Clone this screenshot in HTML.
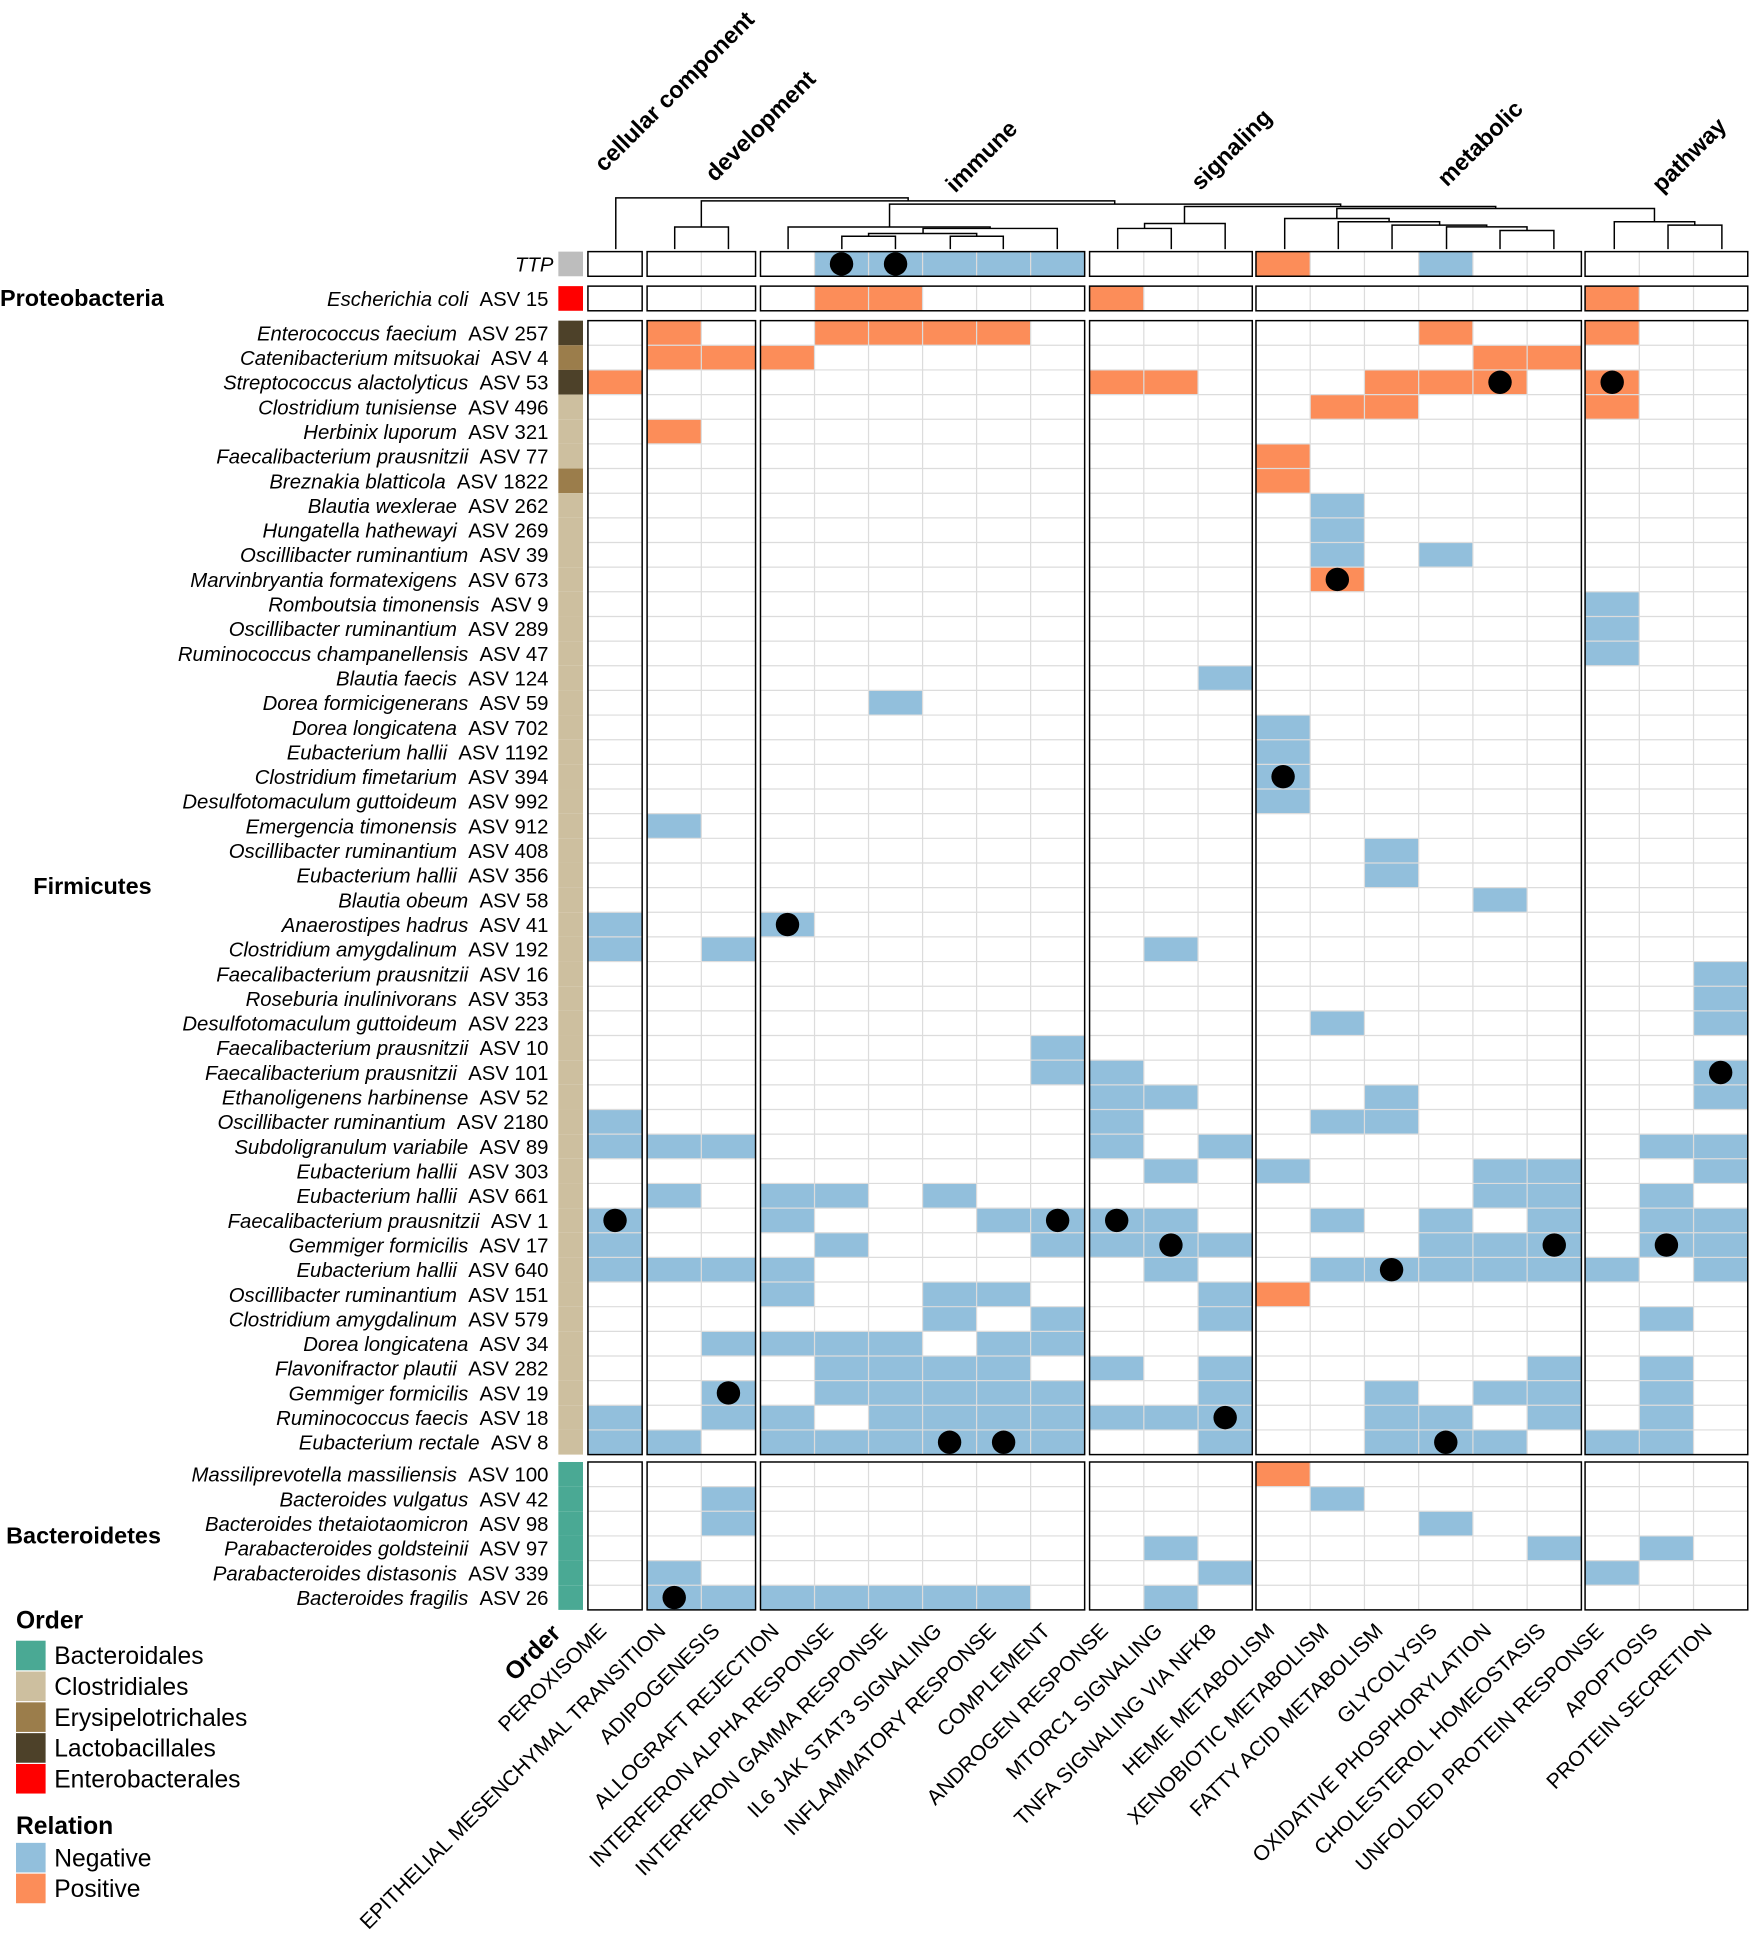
<!DOCTYPE html>
<html><head><meta charset="utf-8"><style>
html,body{margin:0;padding:0;background:#fff;}
svg{display:block;font-family:"Liberation Sans",Arial,sans-serif;}
.rl{font-size:16.5px;text-anchor:end;}
.cl{font-size:17.2px;text-anchor:end;}
.gl{font-size:19px;font-weight:bold;}
.ph{font-size:19px;font-weight:bold;}
.lg{font-size:20px;}
</style></head><body>
<svg id="s" width="1749" height="1933" viewBox="0 0 1419 1568" xmlns="http://www.w3.org/2000/svg">
<g id="cells"></g>
<g id="dend" stroke="#000" stroke-width="1.2" fill="none"></g>
<g class="gl">
<text transform="translate(490,140) rotate(-45)">cellular component</text>
<text transform="translate(580,148) rotate(-45)">development</text>
<text transform="translate(775,157) rotate(-45)">immune</text>
<text transform="translate(974,155) rotate(-45)">signaling</text>
<text transform="translate(1174,152) rotate(-45)">metabolic</text>
<text transform="translate(1348,157) rotate(-45)">pathway</text>
</g>
<text class="ph" x="0" y="248">Proteobacteria</text>
<text class="ph" x="27" y="725">Firmicutes</text>
<text class="ph" x="5" y="1252">Bacteroidetes</text>
<g class="rl">
<text x="449" y="220"><tspan font-style="italic">TTP</tspan></text>
<text x="445" y="248"><tspan font-style="italic">Escherichia coli</tspan>&#160;&#160;ASV 15</text>
<text x="445" y="276"><tspan font-style="italic">Enterococcus faecium</tspan>&#160;&#160;ASV 257</text>
<text x="445" y="296"><tspan font-style="italic">Catenibacterium mitsuokai</tspan>&#160;&#160;ASV 4</text>
<text x="445" y="316"><tspan font-style="italic">Streptococcus alactolyticus</tspan>&#160;&#160;ASV 53</text>
<text x="445" y="336"><tspan font-style="italic">Clostridium tunisiense</tspan>&#160;&#160;ASV 496</text>
<text x="445" y="356"><tspan font-style="italic">Herbinix luporum</tspan>&#160;&#160;ASV 321</text>
<text x="445" y="376"><tspan font-style="italic">Faecalibacterium prausnitzii</tspan>&#160;&#160;ASV 77</text>
<text x="445" y="396"><tspan font-style="italic">Breznakia blatticola</tspan>&#160;&#160;ASV 1822</text>
<text x="445" y="416"><tspan font-style="italic">Blautia wexlerae</tspan>&#160;&#160;ASV 262</text>
<text x="445" y="436"><tspan font-style="italic">Hungatella hathewayi</tspan>&#160;&#160;ASV 269</text>
<text x="445" y="456"><tspan font-style="italic">Oscillibacter ruminantium</tspan>&#160;&#160;ASV 39</text>
<text x="445" y="476"><tspan font-style="italic">Marvinbryantia formatexigens</tspan>&#160;&#160;ASV 673</text>
<text x="445" y="496"><tspan font-style="italic">Romboutsia timonensis</tspan>&#160;&#160;ASV 9</text>
<text x="445" y="516"><tspan font-style="italic">Oscillibacter ruminantium</tspan>&#160;&#160;ASV 289</text>
<text x="445" y="536"><tspan font-style="italic">Ruminococcus champanellensis</tspan>&#160;&#160;ASV 47</text>
<text x="445" y="556"><tspan font-style="italic">Blautia faecis</tspan>&#160;&#160;ASV 124</text>
<text x="445" y="576"><tspan font-style="italic">Dorea formicigenerans</tspan>&#160;&#160;ASV 59</text>
<text x="445" y="596"><tspan font-style="italic">Dorea longicatena</tspan>&#160;&#160;ASV 702</text>
<text x="445" y="616"><tspan font-style="italic">Eubacterium hallii</tspan>&#160;&#160;ASV 1192</text>
<text x="445" y="636"><tspan font-style="italic">Clostridium fimetarium</tspan>&#160;&#160;ASV 394</text>
<text x="445" y="656"><tspan font-style="italic">Desulfotomaculum guttoideum</tspan>&#160;&#160;ASV 992</text>
<text x="445" y="676"><tspan font-style="italic">Emergencia timonensis</tspan>&#160;&#160;ASV 912</text>
<text x="445" y="696"><tspan font-style="italic">Oscillibacter ruminantium</tspan>&#160;&#160;ASV 408</text>
<text x="445" y="716"><tspan font-style="italic">Eubacterium hallii</tspan>&#160;&#160;ASV 356</text>
<text x="445" y="736"><tspan font-style="italic">Blautia obeum</tspan>&#160;&#160;ASV 58</text>
<text x="445" y="756"><tspan font-style="italic">Anaerostipes hadrus</tspan>&#160;&#160;ASV 41</text>
<text x="445" y="776"><tspan font-style="italic">Clostridium amygdalinum</tspan>&#160;&#160;ASV 192</text>
<text x="445" y="796"><tspan font-style="italic">Faecalibacterium prausnitzii</tspan>&#160;&#160;ASV 16</text>
<text x="445" y="816"><tspan font-style="italic">Roseburia inulinivorans</tspan>&#160;&#160;ASV 353</text>
<text x="445" y="836"><tspan font-style="italic">Desulfotomaculum guttoideum</tspan>&#160;&#160;ASV 223</text>
<text x="445" y="856"><tspan font-style="italic">Faecalibacterium prausnitzii</tspan>&#160;&#160;ASV 10</text>
<text x="445" y="876"><tspan font-style="italic">Faecalibacterium prausnitzii</tspan>&#160;&#160;ASV 101</text>
<text x="445" y="896"><tspan font-style="italic">Ethanoligenens harbinense</tspan>&#160;&#160;ASV 52</text>
<text x="445" y="916"><tspan font-style="italic">Oscillibacter ruminantium</tspan>&#160;&#160;ASV 2180</text>
<text x="445" y="936"><tspan font-style="italic">Subdoligranulum variabile</tspan>&#160;&#160;ASV 89</text>
<text x="445" y="956"><tspan font-style="italic">Eubacterium hallii</tspan>&#160;&#160;ASV 303</text>
<text x="445" y="976"><tspan font-style="italic">Eubacterium hallii</tspan>&#160;&#160;ASV 661</text>
<text x="445" y="996"><tspan font-style="italic">Faecalibacterium prausnitzii</tspan>&#160;&#160;ASV 1</text>
<text x="445" y="1016"><tspan font-style="italic">Gemmiger formicilis</tspan>&#160;&#160;ASV 17</text>
<text x="445" y="1036"><tspan font-style="italic">Eubacterium hallii</tspan>&#160;&#160;ASV 640</text>
<text x="445" y="1056"><tspan font-style="italic">Oscillibacter ruminantium</tspan>&#160;&#160;ASV 151</text>
<text x="445" y="1076"><tspan font-style="italic">Clostridium amygdalinum</tspan>&#160;&#160;ASV 579</text>
<text x="445" y="1096"><tspan font-style="italic">Dorea longicatena</tspan>&#160;&#160;ASV 34</text>
<text x="445" y="1116"><tspan font-style="italic">Flavonifractor plautii</tspan>&#160;&#160;ASV 282</text>
<text x="445" y="1136"><tspan font-style="italic">Gemmiger formicilis</tspan>&#160;&#160;ASV 19</text>
<text x="445" y="1156"><tspan font-style="italic">Ruminococcus faecis</tspan>&#160;&#160;ASV 18</text>
<text x="445" y="1176"><tspan font-style="italic">Eubacterium rectale</tspan>&#160;&#160;ASV 8</text>
<text x="445" y="1202"><tspan font-style="italic">Massiliprevotella massiliensis</tspan>&#160;&#160;ASV 100</text>
<text x="445" y="1222"><tspan font-style="italic">Bacteroides vulgatus</tspan>&#160;&#160;ASV 42</text>
<text x="445" y="1242"><tspan font-style="italic">Bacteroides thetaiotaomicron</tspan>&#160;&#160;ASV 98</text>
<text x="445" y="1262"><tspan font-style="italic">Parabacteroides goldsteinii</tspan>&#160;&#160;ASV 97</text>
<text x="445" y="1282"><tspan font-style="italic">Parabacteroides distasonis</tspan>&#160;&#160;ASV 339</text>
<text x="445" y="1302"><tspan font-style="italic">Bacteroides fragilis</tspan>&#160;&#160;ASV 26</text>
</g>
<g class="cl">
<text transform="translate(493,1324) rotate(-45)">PEROXISOME</text>
<text transform="translate(541,1324) rotate(-45)">EPITHELIAL MESENCHYMAL TRANSITION</text>
<text transform="translate(585,1324) rotate(-45)">ADIPOGENESIS</text>
<text transform="translate(633,1324) rotate(-45)">ALLOGRAFT REJECTION</text>
<text transform="translate(677,1324) rotate(-45)">INTERFERON ALPHA RESPONSE</text>
<text transform="translate(721,1324) rotate(-45)">INTERFERON GAMMA RESPONSE</text>
<text transform="translate(765,1324) rotate(-45)">IL6 JAK STAT3 SIGNALING</text>
<text transform="translate(809,1324) rotate(-45)">INFLAMMATORY RESPONSE</text>
<text transform="translate(853,1324) rotate(-45)">COMPLEMENT</text>
<text transform="translate(900,1324) rotate(-45)">ANDROGEN RESPONSE</text>
<text transform="translate(944,1324) rotate(-45)">MTORC1 SIGNALING</text>
<text transform="translate(988,1324) rotate(-45)">TNFA SIGNALING VIA NFKB</text>
<text transform="translate(1035,1324) rotate(-45)">HEME METABOLISM</text>
<text transform="translate(1079,1324) rotate(-45)">XENOBIOTIC METABOLISM</text>
<text transform="translate(1123,1324) rotate(-45)">FATTY ACID METABOLISM</text>
<text transform="translate(1167,1324) rotate(-45)">GLYCOLYSIS</text>
<text transform="translate(1211,1324) rotate(-45)">OXIDATIVE PHOSPHORYLATION</text>
<text transform="translate(1255,1324) rotate(-45)">CHOLESTEROL HOMEOSTASIS</text>
<text transform="translate(1302,1324) rotate(-45)">UNFOLDED PROTEIN RESPONSE</text>
<text transform="translate(1346,1324) rotate(-45)">APOPTOSIS</text>
<text transform="translate(1390,1324) rotate(-45)">PROTEIN SECRETION</text>
<text transform="translate(456,1326) rotate(-45)" style="font-size:20px;font-weight:bold">Order</text>
</g>
<text x="13" y="1321" class="lg" font-weight="bold">Order</text>
<rect x="13" y="1331" width="24" height="24" fill="#4aa994"/>
<rect x="13" y="1356" width="24" height="24" fill="#cdbf9f"/>
<rect x="13" y="1381" width="24" height="24" fill="#9b7d4b"/>
<rect x="13" y="1406" width="24" height="24" fill="#4d4129"/>
<rect x="13" y="1431" width="24" height="24" fill="#ff0000"/>
<text x="44" y="1350" class="lg">Bacteroidales</text>
<text x="44" y="1375" class="lg">Clostridiales</text>
<text x="44" y="1400" class="lg">Erysipelotrichales</text>
<text x="44" y="1425" class="lg">Lactobacillales</text>
<text x="44" y="1450" class="lg">Enterobacterales</text>
<text x="13" y="1488" class="lg" font-weight="bold">Relation</text>
<rect x="13" y="1495" width="24" height="24" fill="#92bfdc"/>
<rect x="13" y="1520" width="24" height="24" fill="#fc8d59"/>
<text x="44" y="1514" class="lg">Negative</text>
<text x="44" y="1539" class="lg">Positive</text>
</svg>
<script>
(function(){
var NS="http://www.w3.org/2000/svg";
var g=document.getElementById("cells"),d=document.getElementById("dend");
function el(t,a,p){var e=document.createElementNS(NS,t);for(var k in a)e.setAttribute(k,a[k]);(p||g).appendChild(e);return e;}
var panels=[[477,521,1],[525,613,2],[617,880,6],[884,1016,3],[1019,1283,6],[1286,1418,3]];
var cols=[];panels.forEach(function(p){var w=(p[1]-p[0])/p[2];for(var i=0;i<p[2];i++)cols.push([p[0]+i*w,w]);});
var BL="#92bfdc",OR="#fc8d59";
var C="#cdbf9f",L="#4d4129",E="#9b7d4b";
var blocks=[
[204,[[[4,5,6,7,8,15],[12],[4,5],"#bdbdbd"]]],
[232,[[[],[4,5,9,18],[],"#ff0000"]]],
[260,[
[[],[1,4,5,6,7,15,18],[],L],
[[],[1,2,3,16,17],[],E],
[[],[0,9,10,14,15,16,18],[16,18],L],
[[],[13,14,18],[],C],
[[],[1],[],C],
[[],[12],[],C],
[[],[12],[],E],
[[13],[],[],C],
[[13],[],[],C],
[[13,15],[],[],C],
[[],[13],[13],C],
[[18],[],[],C],
[[18],[],[],C],
[[18],[],[],C],
[[11],[],[],C],
[[5],[],[],C],
[[12],[],[],C],
[[12],[],[],C],
[[12],[],[12],C],
[[12],[],[],C],
[[1],[],[],C],
[[14],[],[],C],
[[14],[],[],C],
[[16],[],[],C],
[[0,3],[],[3],C],
[[0,2,10],[],[],C],
[[20],[],[],C],
[[20],[],[],C],
[[13,20],[],[],C],
[[8],[],[],C],
[[8,9,20],[],[20],C],
[[9,10,14,20],[],[],C],
[[0,9,13,14],[],[],C],
[[0,1,2,9,11,19,20],[],[],C],
[[10,12,16,17,20],[],[],C],
[[1,3,4,6,16,17,19],[],[],C],
[[0,3,7,8,9,10,13,15,17,19,20],[],[0,8,9],C],
[[0,4,8,9,10,11,15,16,17,19,20],[],[10,17,19],C],
[[0,1,2,3,10,13,14,15,16,17,18,20],[],[14],C],
[[3,6,7,11],[12],[],C],
[[6,8,11,19],[],[],C],
[[2,3,4,5,7,8],[],[],C],
[[4,5,6,7,9,11,17,19],[],[],C],
[[2,4,5,6,7,8,11,14,16,17,19],[],[2],C],
[[0,2,3,5,6,7,8,9,10,11,14,15,17,19],[],[11],C],
[[0,1,3,4,5,6,7,8,11,14,15,16,18,19],[],[6,7,15],C]
]],
[1186,[
[[],[12],[],"#4aa994"],
[[2,13],[],[],"#4aa994"],
[[2,15],[],[],"#4aa994"],
[[10,17,19],[],[],"#4aa994"],
[[1,11,18],[],[],"#4aa994"],
[[1,2,3,4,5,6,7,10],[],[1],"#4aa994"]
]]];
var RH=20;
blocks.forEach(function(b){
 var top=b[0],rows=b[1],n=rows.length,bot=top+n*RH;
 panels.forEach(function(p){el("rect",{x:p[0],y:top,width:p[1]-p[0],height:n*RH,fill:"#fff"});});
 rows.forEach(function(r,i){
  var y=top+i*RH;
  el("rect",{x:453,y:y,width:20,height:RH,fill:r[3]});
  r[0].forEach(function(c){el("rect",{x:cols[c][0],y:y,width:cols[c][1],height:RH,fill:BL});});
  r[1].forEach(function(c){el("rect",{x:cols[c][0],y:y,width:cols[c][1],height:RH,fill:OR});});
 });
 panels.forEach(function(p){
  var w=(p[1]-p[0])/p[2];
  for(var i=1;i<p[2];i++)el("line",{x1:p[0]+i*w,x2:p[0]+i*w,y1:top,y2:bot,stroke:"#dcdcdc","stroke-width":1});
  for(var j=1;j<n;j++)el("line",{x1:p[0],x2:p[1],y1:top+j*RH,y2:top+j*RH,stroke:"#dcdcdc","stroke-width":1});
 });
 rows.forEach(function(r,i){
  r[2].forEach(function(c){el("circle",{cx:cols[c][0]+cols[c][1]/2,cy:top+i*RH+RH/2,r:9.5,fill:"#000"});});
 });
 panels.forEach(function(p){el("rect",{x:p[0],y:top,width:p[1]-p[0],height:n*RH,fill:"none",stroke:"#000","stroke-width":1.2});});
});
var segs=[
[499.6,736.8,160.4,202,162.8],
[569,904.4,162.8,184,165.5],
[547.4,591,184,202,202],
[721.7,1087.7,165.5,184,167.4],
[639.4,803.3,184,202,185.2],
[748.9,857.8,185.2,189.3,202],
[704.7,792.4,189.3,191.5,191.5],
[683,726.5,191.5,202,202],
[771,814,191.5,202,202],
[961,1213.5,167.4,181.2,169],
[928.6,994,181.2,185.2,202],
[906.8,950.3,185.2,202,202],
[1084.6,1342.3,169,177.1,179.8],
[1042.3,1127,177.1,202,179.8],
[1085.8,1168,179.8,202,182.5],
[1129.4,1206.2,182.5,202,183.9],
[1173.6,1238.9,183.9,202,186.9],
[1217,1260.7,186.9,202,202],
[1309.7,1375,179.8,202,182.5],
[1353.3,1397,182.5,202,202]
];
segs.forEach(function(s){
 el("path",{d:"M"+s[0]+" "+s[3]+"V"+s[2]+"H"+s[1]+"V"+s[4]},d);
});
})();
</script>
</body></html>
